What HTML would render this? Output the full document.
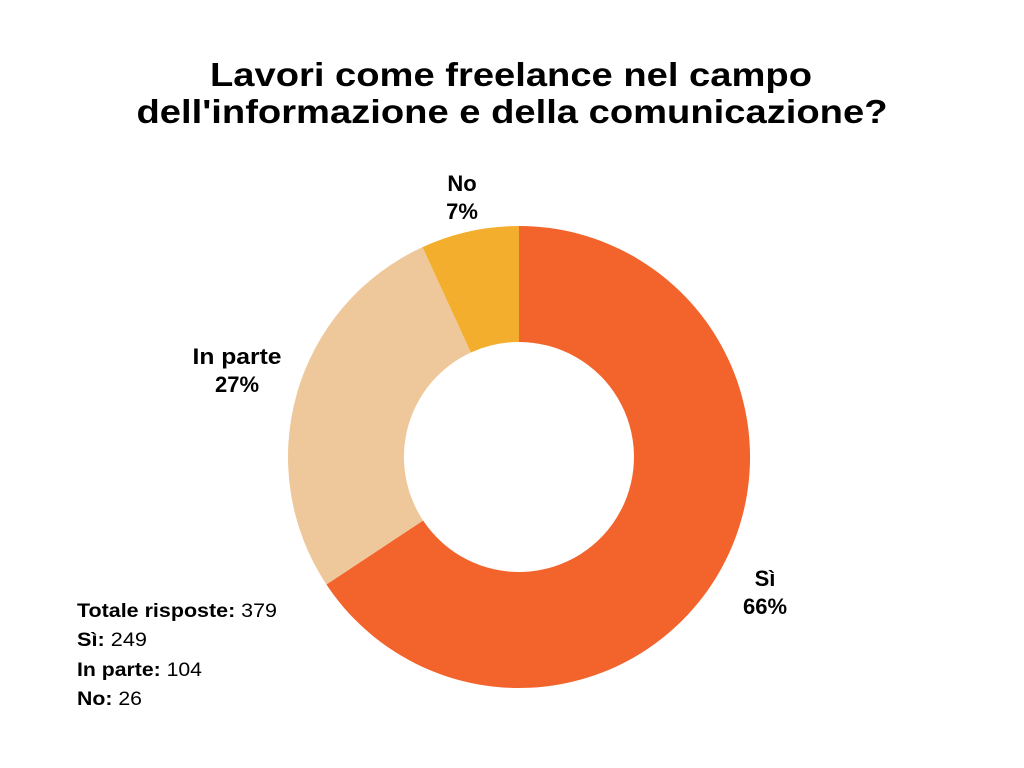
<!DOCTYPE html>
<html><head><meta charset="utf-8"><style>
html,body{margin:0;padding:0;background:#fff;}
</style></head><body>
<svg width="1024" height="768" xmlns="http://www.w3.org/2000/svg" style="display:block">
<rect width="1024" height="768" fill="#fff"/>
<g font-family="Liberation Sans, sans-serif" font-weight="bold" fill="#000" text-anchor="middle">
<text x="511" y="86" font-size="33" textLength="602" lengthAdjust="spacingAndGlyphs">Lavori come freelance nel campo</text>
<text x="512" y="123" font-size="33" textLength="751" lengthAdjust="spacingAndGlyphs">dell'informazione e della comunicazione?</text>
</g>
<path d="M519,226 A231,231 0 1 1 326.4,584.5 L423.1,520.5 A115,115 0 1 0 519,342 Z" fill="#F3632C"/>
<path d="M326.4,584.5 A231,231 0 0 1 422.5,247.1 L470.9,352.5 A115,115 0 0 0 423.1,520.5 Z" fill="#EEC89A"/>
<path d="M422.5,247.1 A231,231 0 0 1 519,226 L519,342 A115,115 0 0 0 470.9,352.5 Z" fill="#F2AE2C"/>
<g font-family="Liberation Sans, sans-serif" font-weight="bold" font-size="22" fill="#000" text-anchor="middle">
<text x="462" y="191">No</text><text x="462" y="219">7%</text>
<text x="237" y="364" textLength="89" lengthAdjust="spacingAndGlyphs">In parte</text><text x="237" y="392">27%</text>
<text x="765" y="586">Sì</text><text x="765" y="614">66%</text>
</g>
<g font-family="Liberation Sans, sans-serif" font-size="19" fill="#000">
<text x="77" y="617" textLength="200" lengthAdjust="spacingAndGlyphs"><tspan font-weight="bold">Totale risposte:</tspan> 379</text>
<text x="77" y="646" textLength="70" lengthAdjust="spacingAndGlyphs"><tspan font-weight="bold">Sì:</tspan> 249</text>
<text x="77" y="676" textLength="125" lengthAdjust="spacingAndGlyphs"><tspan font-weight="bold">In parte:</tspan> 104</text>
<text x="77" y="705" textLength="65" lengthAdjust="spacingAndGlyphs"><tspan font-weight="bold">No:</tspan> 26</text>
</g>
</svg>
</body></html>
